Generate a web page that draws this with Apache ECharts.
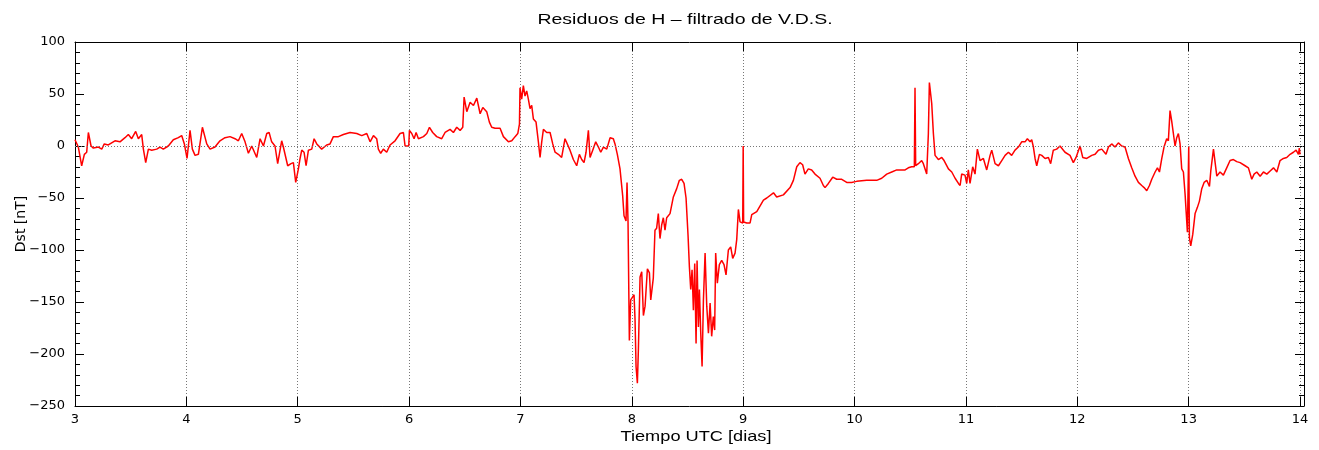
<!DOCTYPE html>
<html>
<head>
<meta charset="utf-8">
<title>Residuos de H</title>
<script src="https://cdn.jsdelivr.net/npm/echarts@6/dist/echarts.min.js"></script>
<style>
  html, body { margin: 0; padding: 0; background: #fff; }
  #chart_dst { width: 1319px; height: 450px; }
</style>
</head>
<body>
<div id="chart_dst"></div>
<script>
// tiempo en dias (UTC) y residuos Dst [nT]
var tiempo = [
    3.000,3.030,3.060,3.084,3.105,3.120,3.144,3.165,3.210,3.240,3.263,3.299,3.359,3.404,3.449,3.479,3.509,3.545,3.569,3.599,
    3.614,3.635,3.659,3.689,3.734,3.763,3.793,3.838,3.883,3.928,3.958,3.982,4.006,4.033,4.054,4.078,4.108,4.144,4.183,4.213,
    4.257,4.302,4.347,4.392,4.437,4.467,4.497,4.527,4.557,4.587,4.632,4.662,4.692,4.722,4.743,4.766,4.796,4.820,4.856,4.871,
    4.910,4.940,4.961,4.982,5.006,5.021,
    5.036,5.057,5.075,5.096,5.126,5.147,5.171,5.215,5.260,5.290,5.320,5.365,5.410,5.470,5.530,5.575,5.620,5.650,5.680,5.709,
    5.724,5.745,5.769,5.799,5.829,5.874,5.919,5.949,5.964,5.997,6.003,6.024,6.045,6.063,6.084,6.129,6.159,6.183,6.212,6.248,
    6.293,6.323,6.368,6.398,6.428,6.458,6.482,6.494,6.518,6.548,6.578,6.608,6.638,6.662,6.697,6.721,6.742,6.772,6.817,6.847,
    6.892,6.922,6.952,6.976,6.991,
    6.996,7.011,7.026,7.041,7.056,7.071,7.086,7.101,7.116,7.140,7.161,7.176,7.191,7.206,7.236,7.266,7.290,7.311,7.340,7.370,
    7.400,7.415,7.445,7.475,7.505,7.529,7.550,7.571,7.589,7.610,7.625,7.649,7.676,7.700,7.721,7.745,7.775,7.805,7.834,7.849,
    7.870,7.894,7.918,7.930,7.948,7.957,7.966,
    7.978,7.990,8.008,8.020,8.029,8.038,8.050,8.059,8.074,8.089,8.104,8.119,8.140,8.158,8.170,8.193,8.208,8.223,8.238,8.253,
    8.268,8.283,8.298,8.313,8.343,8.373,8.403,8.427,8.448,8.469,8.487,8.505,8.517,8.529,8.541,8.553,8.565,8.577,8.586,8.598,
    8.607,8.619,8.631,8.643,8.658,8.673,8.688,8.703,8.717,8.732,8.744,8.753,8.768,8.786,8.807,8.828,8.846,8.867,8.888,8.906,
    8.927,8.942,8.957,8.972,8.996,9.000,9.004,9.032,9.062,9.077,9.122,9.182,9.212,9.272,9.301,9.361,9.421,
    9.451,9.481,9.510,9.534,9.555,9.585,9.615,9.645,9.690,9.720,9.735,9.765,9.804,9.840,9.885,9.930,9.974,10.019,10.109,10.199,
    10.244,10.289,10.334,10.379,10.424,10.454,10.483,10.513,10.537,10.543,10.549,10.573,10.603,10.618,10.648,10.663,10.672,10.693,10.708,10.723,
    10.753,10.783,10.804,10.843,10.873,10.903,10.933,10.948,10.962,10.992,11.007,11.022,11.037,11.061,11.082,11.103,11.127,11.157,11.187,11.217,
    11.232,11.262,11.292,11.322,11.352,11.382,
    11.411,11.441,11.471,11.501,11.531,11.552,11.576,11.591,11.606,11.621,11.636,11.660,11.681,11.711,11.741,11.761,11.785,11.815,11.845,11.860,
    11.890,11.935,11.965,11.989,12.025,12.049,12.085,12.130,12.160,12.190,12.220,12.258,12.280,12.309,12.339,12.369,12.399,12.429,12.459,12.489,
    12.519,12.549,12.579,12.600,12.624,12.648,12.669,12.699,12.720,12.738,12.759,12.779,12.803,12.818,12.833,12.848,12.863,12.878,12.893,12.908,
    12.923,12.938,12.953,12.968,12.989,13.001,13.007,13.019,13.037,13.058,13.079,13.097,13.118,13.139,13.163,13.187,13.199,13.223,13.238,13.253,
    13.282,13.312,13.342,13.372,13.402,13.432,13.462,13.507,13.537,13.567,13.588,13.612,13.642,13.672,13.702,13.732,13.762,13.792,13.821,13.851,
    13.881,13.911,13.941,13.965,13.986,13.994,14.000
];
var dst = [
    6,-1,-19,-8,-6,13,0,-2,-1,-3,2,1,5,4,8,11,7,14,7,11,
    -3,-16,-3,-4,-3,-1,-3,0,6,8,10,2,-12,15,-3,-9,-8,18,2,-3,
    -1,5,8,9,7,5,12,4,-7,0,-11,7,0,12,13,4,0,-17,5,-1,
    -19,-17,-16,-35,-22,-12,
    -4,-6,-19,-4,-3,7,2,-3,1,2,9,9,11,13,12,10,12,4,10,7,
    -3,-7,-3,-6,1,5,12,13,0,0,15,12,7,13,7,9,12,18,13,9,
    7,13,16,13,18,15,18,47,33,42,39,46,31,37,33,23,18,17,17,9,
    4,5,9,12,21,
    56,45,58,48,53,45,36,39,26,23,4,-11,4,16,13,13,2,-6,-8,-11,
    7,8,-4,-13,-19,-8,-13,-16,-6,15,-11,-4,4,-1,-6,-1,-3,8,7,2,
    -8,-22,-48,-67,-72,-35,-73,
    -187,-148,-145,-143,-167,-212,-228,-196,-126,-121,-163,-154,-118,-122,-148,-127,-81,-79,-65,-89,
    -76,-69,-81,-69,-65,-49,-41,-33,-32,-36,-50,-86,-116,-138,-119,-158,-113,-190,-110,-174,
    -138,-180,-212,-148,-103,-154,-180,-151,-183,-164,-177,-103,-132,-114,-110,-114,-124,-100,-97,-108,
    -103,-90,-61,-73,-74,0,-73,-74,-74,-66,-63,-52,-50,-45,-49,-47,-40,
    -33,-20,-16,-18,-27,-22,-23,-27,-31,-38,-40,-36,-30,-32,-32,-35,-35,-34,-33,-33,
    -31,-27,-25,-23,-23,-23,-21,-20,-20,56,-19,-17,-14,-17,-27,12,61,41,12,-9,
    -13,-11,-14,-22,-25,-31,-36,-38,-27,-28,-36,-23,-36,-20,-27,-3,-14,-12,-23,-9,
    -4,-17,-19,-14,-9,-6,
    -9,-4,-1,4,4,7,4,6,-1,-12,-19,-8,-9,-12,-11,-17,-4,-3,0,-1,
    -6,-9,-16,-11,0,-11,-12,-9,-8,-4,-3,-8,-1,2,-1,3,0,-1,-12,-21,
    -29,-35,-38,-40,-43,-38,-32,-25,-21,-25,-12,-1,7,5,34,24,12,0,8,12,
    2,-22,-25,-46,-83,0,-88,-96,-85,-65,-59,-53,-41,-35,-33,-39,-24,-3,-16,-29,
    -25,-28,-21,-14,-13,-15,-16,-19,-21,-32,-27,-25,-29,-25,-27,-24,-21,-25,-14,-12,
    -11,-8,-6,-4,-8,-2,-8
];
var yTicks = { min: -250, max: 100, step: 50 };
var xTicks = { min: 3, max: 14 };

var serieDst = tiempo.map(function (t, i) { return [t, dst[i]]; });

var fuente = 'Liberation Sans, Arial, Helvetica, sans-serif';
var fuenteAncha = 'DejaVu Sans, sans-serif';
var esEntero = function (v) { return Math.abs(v - Math.round(v)) < 1e-6; };

var chart_dst = echarts.init(document.getElementById('chart_dst'));
chart_dst.setOption({
    animation: false,
    // titulo y nombre del eje x: texto algo estirado en horizontal, como el original
    graphic: [
        {
            type: 'text',
            x: 685, y: 20,
            scaleX: 1.3,
            silent: true,
            style: {
                text: 'Residuos de H \u2013 filtrado de V.D.S.',
                fontFamily: fuente, fontSize: 15, fill: '#000',
                align: 'center', verticalAlign: 'middle'
            }
        },
        {
            type: 'text',
            x: 696, y: 437,
            scaleX: 1.3,
            silent: true,
            style: {
                text: 'Tiempo UTC [dias]',
                fontFamily: fuente, fontSize: 14, fill: '#000',
                align: 'center', verticalAlign: 'middle'
            }
        }
    ],
    grid: {
        left: 75,
        right: 15,
        top: 42,
        bottom: 44,
        outerBoundsMode: 'none'
    },
    xAxis: [
        {
            type: 'value',
            min: xTicks.min,
            max: xTicks.max + 0.036,
            interval: 1,
            axisLine: { onZero: false, lineStyle: { color: '#000', width: 1 } },
            axisTick: { inside: true, length: 9, lineStyle: { color: '#000' } },
            axisLabel: {
                margin: 7,
                fontFamily: fuenteAncha, fontSize: 13, color: '#000',
                formatter: function (v) { return esEntero(v) ? String(Math.round(v)) : ''; }
            },
            splitLine: { show: true, lineStyle: { color: '#777', type: [1, 2], width: 1 } }
        },
        {
            // borde superior
            type: 'value',
            position: 'top',
            min: xTicks.min,
            max: xTicks.max + 0.036,
            interval: 1,
            axisLine: { onZero: false, lineStyle: { color: '#000', width: 1 } },
            axisTick: { inside: true, length: 9, lineStyle: { color: '#000' } },
            axisLabel: { show: false },
            splitLine: { show: false }
        }
    ],
    yAxis: [
        {
            type: 'value',
            min: yTicks.min,
            max: yTicks.max,
            interval: yTicks.step,
            name: 'Dst [nT]',
            nameLocation: 'middle',
            nameGap: 47,
            nameMoveOverlap: false,
            nameTextStyle: { fontFamily: fuenteAncha, fontSize: 14, color: '#000' },
            axisLine: { show: true, onZero: false, lineStyle: { color: '#000', width: 1 } },
            axisTick: { show: true, inside: true, length: 9, lineStyle: { color: '#000' } },
            minorTick: { show: true, splitNumber: 5, length: 5, lineStyle: { color: '#000' } },
            axisLabel: {
                margin: 10,
                fontFamily: fuenteAncha, fontSize: 13, color: '#000',
                formatter: function (v) { return String(v).replace('-', '\u2212'); }
            },
            splitLine: { show: false }
        },
        {
            // borde derecho
            type: 'value',
            position: 'right',
            min: yTicks.min,
            max: yTicks.max,
            interval: yTicks.step,
            axisLine: { show: true, onZero: false, lineStyle: { color: '#000', width: 1 } },
            axisTick: { show: true, inside: true, length: 9, lineStyle: { color: '#000' } },
            minorTick: { show: true, splitNumber: 5, length: 5, lineStyle: { color: '#000' } },
            axisLabel: { show: false },
            splitLine: { show: false }
        }
    ],
    series: [
        {
            name: 'Dst',
            type: 'line',
            xAxisIndex: 0,
            yAxisIndex: 0,
            data: serieDst,
            showSymbol: false,
            symbol: 'none',
            lineStyle: { color: '#ff0000', width: 1.5 },
            z: 3,
            markLine: {
                silent: true,
                symbol: ['none', 'none'],
                label: { show: false },
                lineStyle: { color: '#777', type: [1, 2], width: 1 },
                data: [{ yAxis: 0 }]
            }
        }
    ]
});
</script>
</body>
</html>
